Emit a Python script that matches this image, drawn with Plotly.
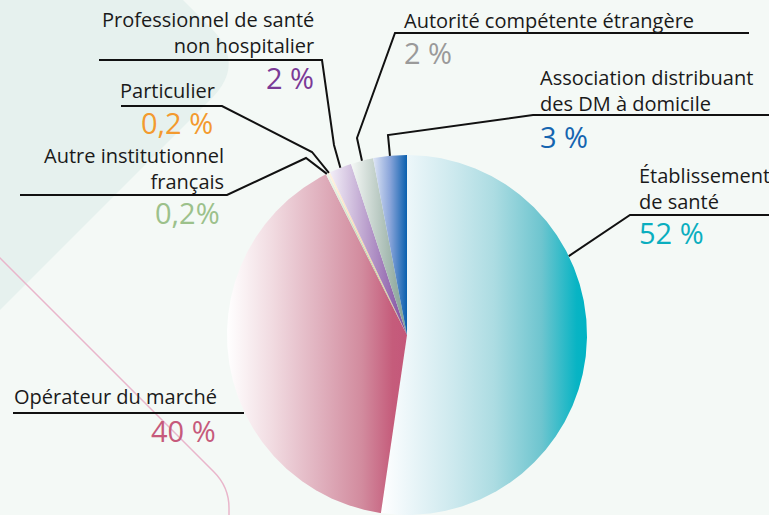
import numpy as np
import plotly.graph_objects as go

# ---------------- data ----------------
categories = [
    "Établissement de santé",
    "Opérateur du marché",
    "Autre institutionnel français",
    "Particulier",
    "Professionnel de santé non hospitalier",
    "Autorité compétente étrangère",
    "Association distribuant des DM à domicile",
]
values = [52, 40, 0.2, 0.2, 2, 2, 3]
value_labels = ["52 %", "40 %", "0,2%", "0,2 %", "2 %", "2 %", "3 %"]
label_texts = [
    "Établissement<br>de santé",
    "Opérateur du marché",
    "Autre institutionnel<br>français",
    "Particulier",
    "Professionnel de santé<br>non hospitalier",
    "Autorité compétente étrangère",
    "Association distribuant<br>des DM à domicile",
]

# ---------------- styles ----------------
gradients = [
    [[0, "#ffffff"], [0.12, "#eef7fa"], [0.35, "#cde9ee"], [0.55, "#acdce2"],
     [0.78, "#6ec5cf"], [0.95, "#08b4c4"], [1, "#00b3c4"]],
    [[0, "#ffffff"], [0.25, "#f1dbe1"], [0.5, "#e1b3c0"], [0.75, "#d28b9e"],
     [0.92, "#c55c7b"], [1, "#c4577a"]],
    [[0, "#f0f6ec"], [1, "#8fbf7c"]],
    [[0, "#fff3e2"], [1, "#f5b469"]],
    [[0, "#f3eff8"], [1, "#7d4a9e"]],
    [[0, "#f5f8f6"], [1, "#7f9c90"]],
    [[0, "#dfe6f5"], [0.5, "#8aa5da"], [1, "#0a5fae"]],
]
value_colors = ["#0aaebf", "#c65a7b", "#9cc18b", "#f39a2e", "#7b3a96", "#9a9a9a", "#1565b0"]
BG = "#f4f9f6"
PALE = "#e6f1ee"
FONT = "Open Sans"

W, H = 769, 515
CX, CY, R = 407, 335, 180


def ux(px):
    return (px - CX) / R


def uy(py):
    return (CY - py) / R


def rim(theta_deg):
    t = np.radians(theta_deg)
    return float(np.sin(t)), float(np.cos(t))


fig = go.Figure()

# ---------------- wedges (clockwise from 12 o'clock) ----------------
vals = np.array(values, dtype=float)
fr = vals / vals.sum()
edges = np.concatenate([[0], np.cumsum(fr)]) * 360.0
mid_angles = []
for i in range(len(values)):
    a0, a1 = edges[i], edges[i + 1]
    mid_angles.append((a0 + a1) / 2)
    n = max(30, int((a1 - a0) * 4))
    th = np.radians(np.linspace(a0, a1, n))
    xs = np.concatenate([[0], np.sin(th), [0]])
    ys = np.concatenate([[0], np.cos(th), [0]])
    fig.add_trace(go.Scatter(
        x=xs, y=ys, mode="lines", fill="toself",
        line=dict(width=0, color=gradients[i][-1][1]),
        fillgradient=dict(type="horizontal", colorscale=gradients[i]),
        hoverinfo="skip", showlegend=False, name=categories[i],
    ))

# ---------------- decorative background shapes ----------------
shapes = []
bg_path = (f"M {ux(0)},{uy(0)} L {ux(183)},{uy(0)} L {ux(211)},{uy(28)} "
           f"Q {ux(246.5)},{uy(63.5)} {ux(211)},{uy(99)} L {ux(0)},{uy(310)} Z")
shapes.append(dict(type="path", path=bg_path, xref="x", yref="y",
                   fillcolor=PALE, line=dict(width=0), layer="below"))
pink_path = (f"M {ux(-5)},{uy(253)} L {ux(214)},{uy(472)} "
             f"Q {ux(229)},{uy(487)} {ux(229)},{uy(508)} L {ux(229)},{uy(520)}")
shapes.append(dict(type="path", path=pink_path, xref="x", yref="y",
                   line=dict(width=1.5, color="#e9b6cb"), layer="below"))

# ---------------- leader lines ----------------
elbows = {
    0: [(769, 215), (630, 215)],
    1: [(13, 413), (244, 413)],
    2: [(20, 195), (227, 195), (306, 158)],
    3: [(121, 106), (222, 106), (312, 152)],
    4: [(99, 60), (322, 60), (334, 145)],
    5: [(749, 33), (395, 33), (357, 138)],
    6: [(769, 115), (533, 115), (388, 135)],
}
attach = {0: 64, 2: mid_angles[2], 3: mid_angles[3], 4: mid_angles[4],
          5: mid_angles[5], 6: mid_angles[6]}
for i, pts in elbows.items():
    coords = [(ux(px), uy(py)) for px, py in pts]
    if i in attach:
        coords.append(rim(attach[i]))
    path = "M " + " L ".join(f"{x:.4f},{y:.4f}" for x, y in coords)
    shapes.append(dict(type="path", path=path, xref="x", yref="y",
                       line=dict(width=2, color="#111111")))

# ---------------- text ----------------
label_pos = {
    0: ((637, 188, "left"), (637, 232, "left")),
    1: ((12, 396, "left"), (218, 430, "right")),
    2: ((226, 168, "right"), (222, 212, "right")),
    3: ((217, 90, "right"), (215, 122, "right")),
    4: ((316, 32, "right"), (316, 77, "right")),
    5: ((402, 20, "left"), (402, 52, "left")),
    6: ((538, 90, "left"), (538, 136, "left")),
}
annotations = []
for i, ((lx, ly, la), (vx, vy, va)) in label_pos.items():
    annotations.append(dict(x=ux(lx), y=uy(ly), xref="x", yref="y", text=label_texts[i],
                            showarrow=False, xanchor=la, yanchor="middle", align=la,
                            font=dict(family=FONT, size=20, color="#1a1a1a")))
    annotations.append(dict(x=ux(vx), y=uy(vy), xref="x", yref="y", text=value_labels[i],
                            showarrow=False, xanchor=va, yanchor="middle", align=va,
                            font=dict(family=FONT, size=29, color=value_colors[i])))

fig.update_layout(
    width=W, height=H,
    margin=dict(l=0, r=0, t=0, b=0),
    paper_bgcolor=BG, plot_bgcolor="rgba(0,0,0,0)",
    xaxis=dict(range=[ux(0), ux(W)], visible=False, fixedrange=True),
    yaxis=dict(range=[uy(H), uy(0)], visible=False, fixedrange=True),
    shapes=shapes, annotations=annotations, showlegend=False,
)

fig.write_html("out.html", config={"displayModeBar": False},
               post_script="document.body.style.margin='0';document.body.style.padding='0';"
                           "document.body.style.background='" + BG + "';")
